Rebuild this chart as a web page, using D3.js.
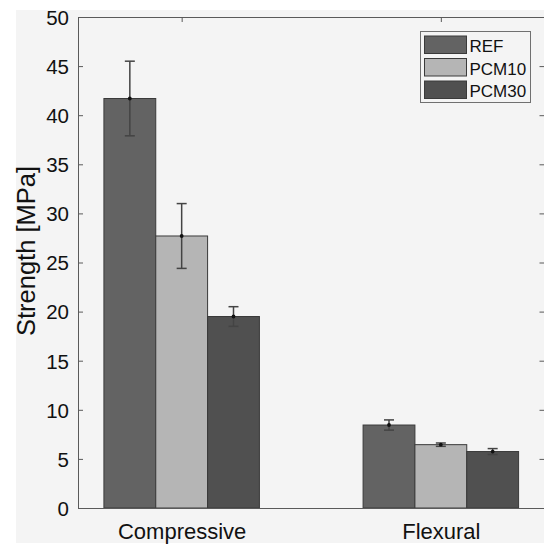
<!DOCTYPE html>
<html><head><meta charset="utf-8">
<script src="https://cdn.jsdelivr.net/npm/d3@7"></script>
<style>
html,body{margin:0;padding:0;background:#fff;}
svg{display:block;font-family:"Liberation Sans",Arial,Helvetica,sans-serif;}
</style></head>
<body>
<script>
const categories = ["Compressive", "Flexural"];
const seriesNames = ["REF", "PCM10", "PCM30"];
const REF = [41.7, 8.45];
const PCM10 = [27.7, 6.45];
const PCM30 = [19.5, 5.75];
const REF_err = [3.8, 0.52];
const PCM10_err = [3.3, 0.17];
const PCM30_err = [1.0, 0.3];
const yTicks = [0, 5, 10, 15, 20, 25, 30, 35, 40, 45, 50];
const colors = ["#636363", "#b5b5b5", "#505050"];

const means = [REF, PCM10, PCM30];
const errs = [REF_err, PCM10_err, PCM30_err];

const W = 544, H = 545;
const L = 78, R = 544.5, T = 17, B = 508;

const svg = d3.select("body").append("svg").attr("width", W).attr("height", H);
svg.append("rect").attr("x", 16).attr("y", 10).attr("width", W - 16).attr("height", 533).attr("fill", "#f4f4f4");

const x = d3.scaleLinear().domain([0.6, 2.4]).range([L, R]);
const y = d3.scaleLinear().domain([0, 50]).range([B, T]);
const bw = 0.2, offs = [-0.2, 0, 0.2];

// bars
const data = [];
seriesNames.forEach((s, si) => categories.forEach((c, ci) => data.push({si, ci, v: means[si][ci], e: errs[si][ci]})));

svg.append("g").selectAll("rect").data(data).join("rect")
  .attr("x", d => x(d.ci + 1 + offs[d.si] - bw / 2))
  .attr("width", d => x(bw) - x(0))
  .attr("y", d => y(d.v))
  .attr("height", d => y(0) - y(d.v))
  .attr("fill", d => colors[d.si])
  .attr("stroke", "#3a3a3a").attr("stroke-width", 1);

// error bars
const eg = svg.append("g").attr("stroke", "#444").attr("stroke-width", 1.5);
data.forEach(d => {
  const cx = x(d.ci + 1 + offs[d.si]);
  eg.append("line").attr("x1", cx).attr("x2", cx).attr("y1", y(d.v + d.e)).attr("y2", y(d.v - d.e));
  eg.append("line").attr("x1", cx - 5).attr("x2", cx + 5).attr("y1", y(d.v + d.e)).attr("y2", y(d.v + d.e));
  eg.append("line").attr("x1", cx - 5).attr("x2", cx + 5).attr("y1", y(d.v - d.e)).attr("y2", y(d.v - d.e));
  svg.append("circle").attr("cx", cx).attr("cy", y(d.v)).attr("r", 1.9).attr("fill", "#111");
});

// axes box
const axColor = "#5a5a5a";
const ya = svg.append("g").attr("transform", `translate(${L},0)`)
  .call(d3.axisLeft(y).tickValues(yTicks).tickSize(-5).tickPadding(9).tickFormat(d3.format("d")));
ya.select(".domain").attr("stroke", axColor);
ya.selectAll(".tick line").attr("stroke", axColor);
ya.selectAll("text").attr("font-size", 20.5).attr("fill", "#111").attr("dy", "0.36em");

const yr = svg.append("g").attr("transform", `translate(${R},0)`)
  .call(d3.axisRight(y).tickValues(yTicks).tickSize(-5).tickFormat(""));
yr.select(".domain").attr("stroke", axColor);
yr.selectAll(".tick line").attr("stroke", axColor);

const xt = svg.append("g").attr("transform", `translate(0,${T})`)
  .call(d3.axisTop(x).tickValues([1, 2]).tickSize(-5).tickFormat(""));
xt.select(".domain").attr("stroke", axColor);
xt.selectAll(".tick line").attr("stroke", axColor);

const xb = svg.append("g").attr("transform", `translate(0,${B})`)
  .call(d3.axisBottom(x).tickValues([1, 2]).tickSize(0).tickPadding(0).tickFormat((d) => categories[d - 1]));
xb.select(".domain").attr("stroke", axColor);
xb.selectAll("text").attr("font-size", 22).attr("fill", "#111").attr("dy", null).attr("y", 31);

// y label
svg.append("text").attr("transform", "translate(35,251) rotate(-90)")
  .attr("text-anchor", "middle").attr("font-size", 25.5).attr("fill", "#111").text("Strength [MPa]");

// legend
const lg = svg.append("g");
lg.append("rect").attr("x", 420.5).attr("y", 31.5).attr("width", 110).attr("height", 71)
  .attr("fill", "#f4f4f4").attr("stroke", "#707070").attr("stroke-width", 1);
seriesNames.forEach((s, i) => {
  const yy = 36 + i * 22.5;
  lg.append("rect").attr("x", 424.5).attr("y", yy).attr("width", 42).attr("height", 17.5)
    .attr("fill", colors[i]).attr("stroke", "#3a3a3a");
  lg.append("text").attr("x", 469.5).attr("y", yy + 16).attr("font-size", 17).attr("fill", "#111").text(s);
});
</script>
</body></html>
